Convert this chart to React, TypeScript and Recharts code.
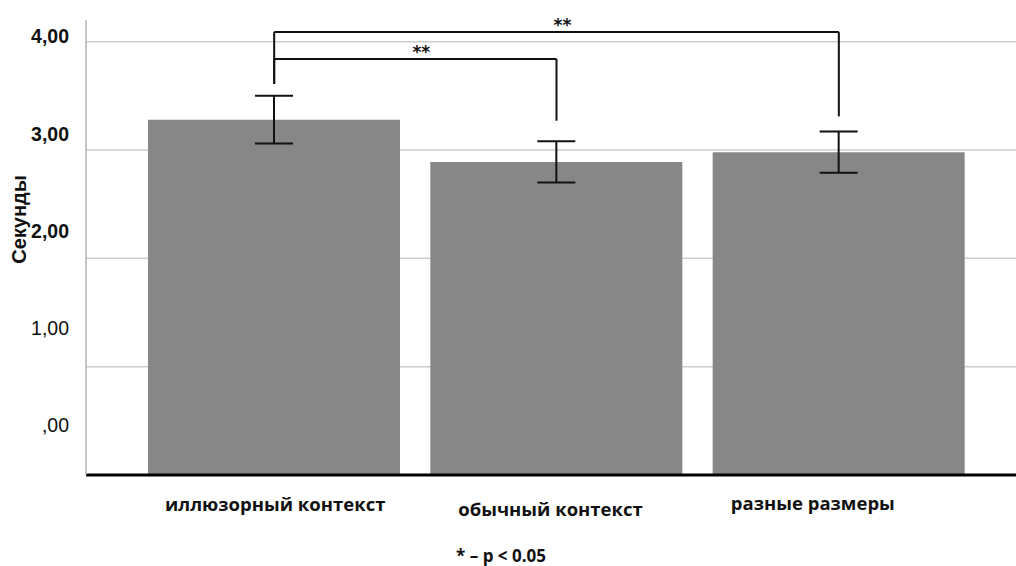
import {
  Bar,
  BarChart,
  CartesianGrid,
  ErrorBar,
  Label,
  ReferenceLine,
  XAxis,
  YAxis
} from "recharts";

const categories = ["иллюзорный контекст", "обычный контекст", "разные размеры"];
const means = [3.28, 2.89, 2.98];
const errors = [0.22, 0.19, 0.19];
const yTicks = [0, 1, 2, 3, 4];

// significance brackets: top height, and where each leg ends
const outerBracket = { from: 0, to: 2, top: 4.09, fromEnd: 3.61, toEnd: 3.31, mark: "**" };
const innerBracket = { from: 0, to: 1, top: 3.84, fromEnd: 3.61, toEnd: 3.27, mark: "**" };

const footnote = "* – p < 0.05";

const chartData = categories.map((name, i) => ({
  name,
  mean: means[i],
  err: errors[i]
}));

const fmt = (v: number) => (v === 0 ? ",00" : v.toFixed(2).replace(".", ","));

function YTick({ x, y, payload }: any) {
  const v = payload.value as number;
  // tick labels sit on a slightly tighter spacing than the grid
  const shift = -5 - (4 - v) * 11.3;
  return (
    <text
      x={x}
      y={y + shift}
      dy="0.35em"
      textAnchor="end"
      fontFamily="Liberation Sans, Arial, sans-serif"
      fontWeight={v >= 2 ? 700 : 400}
      fontSize={19.5}
      fill="#111"
    >
      {fmt(v)}
    </text>
  );
}

const xLabelShift: Record<string, [number, number]> = {
  "иллюзорный контекст": [1, 0],
  "обычный контекст": [-6, 5],
  "разные размеры": [-26, -1]
};

function XTick({ x, y, payload }: any) {
  const [dx, dy] = xLabelShift[payload.value] ?? [0, 0];
  return (
    <text
      x={x + dx}
      y={y + 28 + dy}
      textAnchor="middle"
      fontFamily="Open Sans, sans-serif"
      fontWeight={700}
      fontSize={18.5}
      fill="#111"
    >
      {payload.value}
    </text>
  );
}

function bracketLines(b: typeof outerBracket, key: string) {
  const a = categories[b.from];
  const c = categories[b.to];
  const line = { stroke: "#111", strokeWidth: 2, ifOverflow: "visible" as const };
  return [
    <ReferenceLine
      key={key + "-top"}
      segment={[{ x: a, y: b.top }, { x: c, y: b.top }]}
      {...line}
      label={{
        value: b.mark,
        position: "top",
        offset: 1,
        dx: 6,
        fill: "#111",
        fontSize: 17,
        fontWeight: 700,
        fontFamily: "DejaVu Sans, sans-serif"
      }}
    />,
    <ReferenceLine
      key={key + "-l"}
      segment={[{ x: a, y: b.top }, { x: a, y: b.fromEnd }]}
      {...line}
    />,
    <ReferenceLine
      key={key + "-r"}
      segment={[{ x: c, y: b.top }, { x: c, y: b.toEnd }]}
      {...line}
    />
  ];
}

export default function App() {
  return (
    <div style={{ position: "absolute", left: 0, top: 0, background: "#fff" }}>
      <BarChart
        width={1016}
        height={566}
        data={chartData}
        margin={{ top: 20, right: 0, bottom: 4, left: 0 }}
        barCategoryGap={15}
      >
        <CartesianGrid
          vertical={false}
          horizontalValues={yTicks}
          stroke="#cdcdcd"
          strokeWidth={1.5}
        />
        <XAxis
          dataKey="name"
          height={87}
          padding={{ left: 47, right: 36 }}
          axisLine={{ stroke: "#000", strokeWidth: 3 }}
          tickLine={false}
          tick={<XTick />}
          interval={0}
        >
          <Label
            value={footnote}
            position="insideBottom"
            offset={0}
            dx={-50}
            fill="#111"
            fontSize={17}
            fontWeight={700}
            fontFamily="Open Sans, sans-serif"
          />
        </XAxis>
        <YAxis
          width={86}
          domain={[0, 4.2]}
          ticks={yTicks}
          axisLine={{ stroke: "#b5b5b5", strokeWidth: 1.5 }}
          tickLine={false}
          tickMargin={11}
          tick={<YTick />}
        >
          <Label
            value="Секунды"
            angle={-90}
            position="center"
            dx={-24}
            dy={-28}
            fill="#111"
            fontSize={20}
            fontWeight={700}
            fontFamily="Liberation Sans, Arial, sans-serif"
          />
        </YAxis>
        <Bar dataKey="mean" fill="#878787" isAnimationActive={false}>
          <ErrorBar dataKey="err" width={19} stroke="#111" strokeWidth={2} />
        </Bar>
        {bracketLines(outerBracket, "outer")}
        {bracketLines(innerBracket, "inner")}
      </BarChart>
    </div>
  );
}
